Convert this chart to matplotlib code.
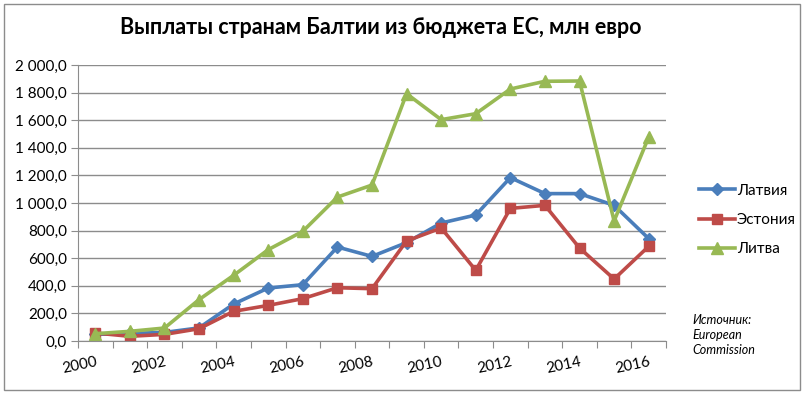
import numpy as np
import matplotlib.pyplot as plt
from matplotlib.patches import Rectangle

plt.rcParams['font.family'] = ['Lato', 'DejaVu Sans']

years = list(range(2000, 2017))
latvia = [48, 55, 62, 95, 268, 384, 408, 681, 613, 713, 855, 913, 1184, 1068, 1068, 983, 742]
estonia = [58, 34, 48, 89, 215, 258, 307, 386, 379, 725, 819, 512, 961, 983, 674, 449, 686]
lithuania = [53, 70, 94, 300, 476, 662, 795, 1043, 1130, 1792, 1604, 1647, 1826, 1882, 1884, 870, 1478]
series_names = ["Латвия", "Эстония", "Литва"]


def fmt(v, pos=None):
    s = f"{v:,.1f}".replace(",", " ").replace(".", ",")
    return s


fig = plt.figure(figsize=(8.05, 3.93), dpi=100)
ax = fig.add_axes([78 / 805, 1 - 341 / 393, 588 / 805, 276 / 393])

x = np.arange(len(years))
ax.plot(x, latvia, color="#4A7EBB", lw=2.6, marker="D", ms=6, label=series_names[0])
ax.plot(x, estonia, color="#BE4B48", lw=2.6, marker="s", ms=7.5, label=series_names[1])
ax.plot(x, lithuania, color="#98B954", lw=2.6, marker="^", ms=8.5, label=series_names[2])

ax.set_xlim(-0.5, len(years) - 0.5)
ax.set_ylim(0, 2000)
ax.set_yticks(np.arange(0, 2001, 200))
ax.yaxis.set_major_formatter(plt.FuncFormatter(fmt))
ax.grid(axis="y", color="#8c8c8c", lw=1)
ax.set_axisbelow(True)

# category boundaries as ticks, labels every other year
ax.set_xticks(np.arange(-0.5, len(years), 1))
ax.set_xticklabels([])
ax.set_xticks(x[::2], minor=True)
ax.set_xticklabels([str(y) for y in years[::2]], minor=True, rotation=12,
                   ha="right", rotation_mode="anchor", fontsize=11)
ax.tick_params(axis="x", which="minor", length=0, pad=10)
ax.tick_params(axis="x", which="major", length=5, color="#8c8c8c")
ax.tick_params(axis="y", length=5, color="#8c8c8c", labelsize=11, pad=3)

for s in ["top", "right"]:
    ax.spines[s].set_visible(False)
for s in ["left", "bottom"]:
    ax.spines[s].set_color("#8c8c8c")

fig.suptitle("Выплаты странам Балтии из бюджета ЕС, млн евро", x=0.473, y=0.957,
             fontsize=15.5, fontweight="bold")

ax.legend(loc="upper left", bbox_to_anchor=(685 / 805, 1 - 170 / 393),
          bbox_transform=fig.transFigure, frameon=False, fontsize=11,
          handlelength=2.4, handletextpad=0.1, labelspacing=1.0)

fig.text(692 / 805, 1 - 314 / 393, "Источник:\nEuropean\nCommission", fontsize=9,
         style="italic", va="top", ha="left", linespacing=1.3)

fig.patches.append(Rectangle((4 / 805, 3 / 393), 796 / 805, 386 / 393,
                             transform=fig.transFigure, fill=False,
                             edgecolor="#8c8c8c", lw=1))

fig.savefig("out.png", dpi=100)
